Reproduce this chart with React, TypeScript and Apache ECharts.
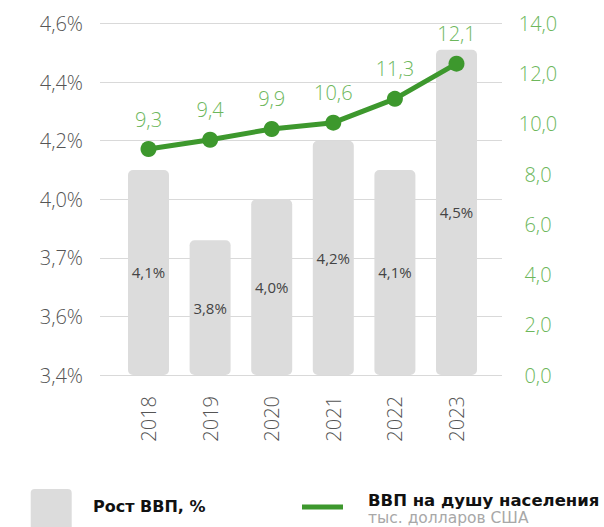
import React, { useEffect, useRef } from "react";
import * as echarts from "echarts";

const years = ["2018", "2019", "2020", "2021", "2022", "2023"];
const gdpGrowth = [4.1, 3.86, 4.0, 4.2, 4.1, 4.51];
const gdpGrowthLabels = ["4,1%", "3,8%", "4,0%", "4,2%", "4,1%", "4,5%"];
const gdpPerCapita = [9.0, 9.37, 9.8, 10.05, 11.0, 12.4];
const gdpPerCapitaLabels = ["9,3", "9,4", "9,9", "10,6", "11,3", "12,1"];
const leftTickLabels = ["3,4%", "3,6%", "3,7%", "4,0%", "4,2%", "4,4%", "4,6%"];

const FONT = "'Open Sans', 'Noto Sans', sans-serif";
const LEGEND_FONT = "'DejaVu Sans', 'Noto Sans', sans-serif";
const GREEN = "#3d982d";
const LIGHT_GREEN = "#6db75c";
const BAR = "#dcdcdc";

export default function App() {
  const ref = useRef<HTMLDivElement>(null);
  useEffect(() => {
    if (!ref.current) return;
    const chart = echarts.init(ref.current, undefined, { renderer: "svg" });
    const option: any = {
      animation: false,
      backgroundColor: "#ffffff",
      grid: [
        { left: 117.7, right: 116.7, top: 23.5, bottom: 152 },
        { left: 100, right: 102, top: 23.5, bottom: 152 },
      ],
      xAxis: [
        {
          type: "category",
          gridIndex: 0,
          data: years,
          axisLine: { show: false },
          axisTick: { show: false },
          axisLabel: {
            rotate: 90,
            margin: 21,
            fontSize: 20,
            fontFamily: FONT,
            fontWeight: 300,
            color: "#555",
          },
        },
        {
          type: "category",
          gridIndex: 1,
          data: years,
          show: false,
        },
      ],
      yAxis: [
        {
          type: "value",
          gridIndex: 0,
          min: 3.4,
          max: 4.6,
          interval: 0.2,
          show: false,
          splitLine: { show: false },
        },
        {
          type: "value",
          gridIndex: 0,
          min: 0,
          max: 14,
          interval: 2,
          show: false,
          splitLine: { show: false },
        },
        {
          type: "value",
          gridIndex: 1,
          position: "left",
          min: 3.4,
          max: 4.6,
          interval: 0.2,
          axisLine: { show: false },
          axisTick: { show: false },
          splitLine: { show: true, lineStyle: { color: "#d9d9d9", width: 1 } },
          axisLabel: {
            margin: 17,
            fontSize: 20,
            fontFamily: FONT,
            fontWeight: 300,
            color: "#555",
            formatter: (_v: number, i: number) => leftTickLabels[i] ?? "",
          },
        },
        {
          type: "value",
          gridIndex: 1,
          position: "right",
          min: 0,
          max: 14,
          interval: 2,
          axisLine: { show: false },
          axisTick: { show: false },
          splitLine: { show: false },
          axisLabel: {
            margin: 36,
            align: "center",
            fontSize: 20,
            fontFamily: FONT,
            fontWeight: 300,
            color: LIGHT_GREEN,
            formatter: (v: number) => v.toFixed(1).replace(".", ","),
          },
        },
      ],
      series: [
        {
          type: "bar",
          xAxisIndex: 0,
          yAxisIndex: 0,
          data: gdpGrowth,
          barWidth: 41,
          itemStyle: { color: BAR, borderRadius: 5 },
          label: {
            show: true,
            position: "inside",
            fontSize: 15,
            fontFamily: FONT,
            color: "#444",
            formatter: (p: any) => gdpGrowthLabels[p.dataIndex],
          },
        },
        {
          type: "line",
          xAxisIndex: 0,
          yAxisIndex: 1,
          data: gdpPerCapita,
          symbol: "circle",
          symbolSize: 16,
          lineStyle: { color: GREEN, width: 5 },
          itemStyle: { color: GREEN },
          label: {
            show: true,
            position: "top",
            distance: 12,
            fontSize: 20,
            fontFamily: FONT,
            fontWeight: 300,
            color: LIGHT_GREEN,
            formatter: (p: any) => gdpPerCapitaLabels[p.dataIndex],
          },
        },
      ],
      graphic: [
        {
          type: "rect",
          shape: { x: 30.7, y: 489, width: 41, height: 50, r: 4 },
          style: { fill: BAR },
        },
        {
          type: "text",
          x: 93,
          y: 506,
          style: {
            text: "Рост ВВП, %",
            font: `bold 16px ${LEGEND_FONT}`,
            fill: "#111",
            verticalAlign: "middle",
          },
        },
        {
          type: "line",
          shape: { x1: 302, y1: 507, x2: 343, y2: 507 },
          style: { stroke: GREEN, lineWidth: 5 },
        },
        {
          type: "text",
          x: 368,
          y: 500,
          style: {
            text: "ВВП на душу населения",
            font: `bold 16.5px ${LEGEND_FONT}`,
            fill: "#111",
            verticalAlign: "middle",
          },
        },
        {
          type: "text",
          x: 368,
          y: 518,
          style: {
            text: "тыс. долларов США",
            font: `15.5px ${LEGEND_FONT}`,
            fill: "#a8a8a8",
            verticalAlign: "middle",
          },
        },
      ],
    };
    chart.setOption(option);
    return () => chart.dispose();
  }, []);
  return (
    <div
      ref={ref}
      style={{ position: "fixed", left: 0, top: 0, width: 604, height: 527 }}
    />
  );
}
